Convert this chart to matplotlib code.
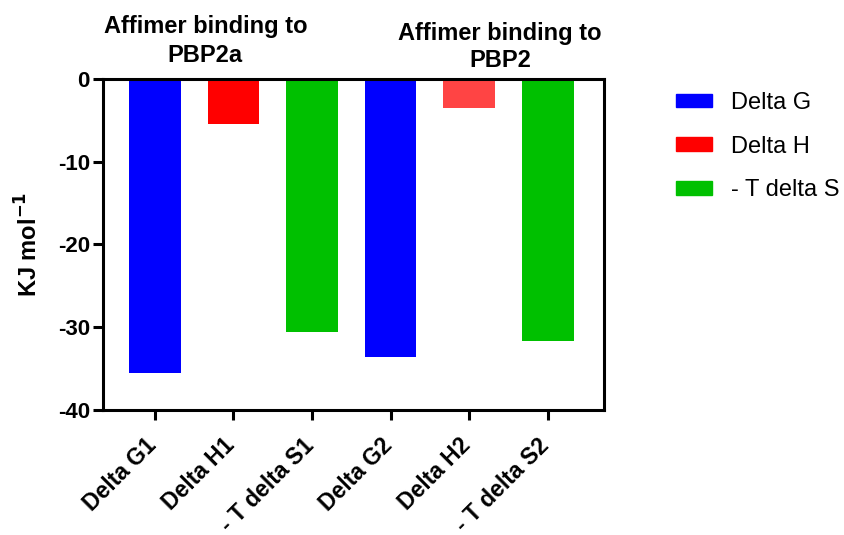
import matplotlib
matplotlib.use('Agg')
import matplotlib.pyplot as plt
import matplotlib.transforms as mtransforms
from matplotlib.patches import Patch

plt.rcParams['font.family'] = 'Liberation Sans'
plt.rcParams['axes.unicode_minus'] = False

labels = ['Delta G1', 'Delta H1', '- T delta S1', 'Delta G2', 'Delta H2', '- T delta S2']
values = [-35.5, -5.4, -30.6, -33.6, -3.5, -31.7]
colors = ['#0000FF', '#FF0000', '#00C000', '#0000FF', '#FF4444', '#00C000']
legend_labels = ['Delta G', 'Delta H', '- T delta S']
legend_colors = ['#0000FF', '#FF0000', '#00C000']

fig = plt.figure(figsize=(8.45, 5.35), dpi=100)
ax = fig.add_axes([0.122, 0.234, 0.593, 0.618])

x = list(range(len(labels)))
ax.bar(x, values, width=0.66, color=colors)

ax.set_xlim(-0.66, 5.72)
ax.set_ylim(-40, 0)
ax.set_yticks([0, -10, -20, -30, -40])
ax.set_xticks(x)
ax.set_xticklabels([])
# slanted labels, set a bit down-left of each tick like the original
offset = mtransforms.ScaledTranslation(-0.10, -0.24, fig.dpi_scale_trans)
for xi, lab in zip(x, labels):
    ax.text(xi, 0, lab, transform=ax.get_xaxis_transform() + offset,
            rotation=45, ha='right', va='top', rotation_mode='anchor',
            fontsize=16.5, fontweight='bold', clip_on=False)
for t in ax.get_yticklabels():
    t.set_fontsize(16)
    t.set_fontweight('bold')
ax.set_ylabel('KJ mol$^{\\mathbf{-1}}$', fontsize=17, fontweight='bold', labelpad=11)

for s in ax.spines.values():
    s.set_linewidth(2.2)
ax.tick_params(direction='out', length=7.5, width=2.2, pad=2)

title_kw = dict(ha='center', va='center', fontsize=17, fontweight='bold')
fig.text(0.243, 0.951, 'Affimer binding to', **title_kw)
fig.text(0.243, 0.897, 'PBP2a', **title_kw)
fig.text(0.592, 0.938, 'Affimer binding to', **title_kw)
fig.text(0.592, 0.886, 'PBP2', **title_kw)

handles = [Patch(color=c, label=l) for c, l in zip(legend_colors, legend_labels)]
fig.legend(handles=handles, loc='upper left', bbox_to_anchor=(0.775, 0.868),
           frameon=False, fontsize=17, handlelength=1.52, handleheight=0.5,
           labelspacing=0.92, handletextpad=0.8)

fig.savefig('out.png', dpi=100)
